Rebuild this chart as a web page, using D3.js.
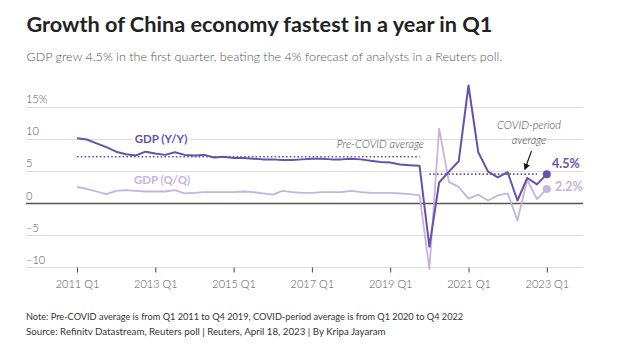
<!DOCTYPE html>
<html><head><meta charset="utf-8">
<script src="https://cdn.jsdelivr.net/npm/d3@7"></script>
<style>
body{margin:0;background:#fff;}
svg text{font-family:Lato,"Noto Sans",sans-serif;}
</style></head>
<body><svg id="c" width="624" height="355"></svg>
<script>
const years = [2011,2012,2013,2014,2015,2016,2017,2018,2019,2020,2021,2022,2023];
const quarters = [];
years.forEach(y => ["Q1","Q2","Q3","Q4"].forEach(q => { if (quarters.length < 49) quarters.push(y + " " + q); }));

const gdpYoY = [10.1,9.9,9.3,8.7, 8.0,7.6,7.4,8.0, 7.7,7.5,7.9,7.5, 7.4,7.5,7.1,7.2,
  7.0,7.0,6.9,6.8, 6.8,6.7,6.7,6.8, 6.9,6.9,6.8,6.8, 6.9,6.8,6.6,6.4, 6.3,6.0,5.9,5.8,
  -6.8,3.2,4.9,6.5, 18.3,7.9,4.9,4.0, 4.8,0.4,3.9,2.9, 4.5];
const gdpQoQ = [2.5,2.2,1.8,1.4, 1.9,2.0,1.9,1.8, 1.8,1.8,2.0,1.5, 1.6,1.7,1.7,1.7,
  1.7,1.8,1.7,1.5, 1.3,1.9,1.7,1.6, 1.6,1.7,1.7,1.7, 1.9,1.7,1.6,1.6, 1.6,1.5,1.4,1.2,
  -10.3,11.6,3.3,2.5, 0.7,1.3,0.4,1.2, 1.5,-2.7,3.6,0.6, 2.2];
const preCovidAvg = {from:"2011 Q1", to:"2019 Q4", value:7.2};
const covidAvg = {from:"2020 Q1", to:"2022 Q4", value:4.5};
const yTicks = [-10,-5,0,5,10,15];
const xTickLabels = ["2011 Q1","2013 Q1","2015 Q1","2017 Q1","2019 Q1","2021 Q1","2023 Q1"];

const title = "Growth of China economy fastest in a year in Q1";
const subtitle = "GDP grew 4.5% in the first quarter, beating the 4% forecast of analysts in a Reuters poll.";
const note = "Note: Pre-COVID average is from Q1 2011 to Q4 2019, COVID-period average is from Q1 2020 to Q4 2022";
const source = "Source: Refinitv Datastream, Reuters poll | Reuters, April 18, 2023 | By Kripa Jayaram";

const dark = "#6552ad", light = "#c6b3de";
const svg = d3.select("#c");

const x = d3.scalePoint().domain(quarters).range([77, 546.8]);
const y = d3.scaleLinear().domain([-10, 15]).range([267.3, 106.7]);

function fit(sel, target) {
  const n = sel.node();
  const fs = parseFloat(sel.attr("font-size"));
  const w = n.getComputedTextLength();
  sel.attr("font-size", (fs * target / w).toFixed(2));
}

// Title & subtitle
fit(svg.append("text").attr("x", 26.5).attr("y", 32).attr("font-size", 22).attr("font-weight", 700)
  .attr("fill", "#222").text(title), 466);
fit(svg.append("text").attr("x", 26.5).attr("y", 60.5).attr("font-size", 13).attr("font-weight", 300)
  .attr("fill", "#555").text(subtitle), 476);

// Gridlines
const grid = svg.append("g");
grid.selectAll("line").data(yTicks).join("line")
  .attr("x1", 26).attr("x2", 583)
  .attr("y1", d => Math.round(y(d)) + 0.5).attr("y2", d => Math.round(y(d)) + 0.5)
  .attr("stroke", d => d === 0 ? "#555" : "#dcdcdc")
  .attr("stroke-width", d => d === 0 ? 1.3 : 1);
grid.selectAll("text").data(yTicks).join("text")
  .attr("x", 26).attr("y", d => y(d) - 3.5)
  .attr("font-size", 11).attr("font-weight", 300).attr("fill", "#555")
  .text(d => (d < 0 ? "\u2212" + Math.abs(d) : d) + (d === 15 ? "%" : ""));

// X axis
const xAxis = d3.axisBottom(x).tickValues(xTickLabels).tickSize(5).tickPadding(8);
const gx = svg.append("g").attr("transform", `translate(0,${Math.round(y(-10)) + 0.5})`).call(xAxis);
gx.select(".domain").remove();
gx.selectAll(".tick line").attr("stroke", "#444");
gx.selectAll(".tick text").attr("font-size", 11).attr("font-weight", 300).attr("fill", "#555")
  .attr("font-family", 'Lato,"Noto Sans",sans-serif');

// Average dotted lines
function avgLine(a) {
  svg.append("line")
    .attr("x1", x(a.from)).attr("x2", x(a.to))
    .attr("y1", y(a.value)).attr("y2", y(a.value))
    .attr("stroke", dark).attr("stroke-width", 1.6).attr("stroke-dasharray", "1.6,2.2");
}
avgLine(preCovidAvg);
avgLine(covidAvg);

// Lines
const line = d3.line().x((d, i) => x(quarters[i])).y(d => y(d));
svg.append("path").datum(gdpQoQ).attr("d", line).attr("fill", "none")
  .attr("stroke", light).attr("stroke-width", 1.8).attr("stroke-linejoin", "round");
svg.append("path").datum(gdpYoY).attr("d", line).attr("fill", "none")
  .attr("stroke", dark).attr("stroke-width", 2).attr("stroke-linejoin", "round");

// End dots and labels
const last = quarters.length - 1;
svg.append("circle").attr("cx", x(quarters[last])).attr("cy", y(gdpQoQ[last])).attr("r", 4).attr("fill", light);
svg.append("circle").attr("cx", x(quarters[last])).attr("cy", y(gdpYoY[last])).attr("r", 4).attr("fill", dark);
svg.append("text").attr("x", 552).attr("y", y(gdpYoY[last]) - 6.5).attr("font-size", 12.5).attr("font-weight", 700)
  .attr("fill", dark).text(gdpYoY[last] + "%");
svg.append("text").attr("x", 555).attr("y", y(gdpQoQ[last]) + 2.5).attr("font-size", 12.5).attr("font-weight", 700)
  .attr("fill", light).text(gdpQoQ[last] + "%");

// Series labels with white halo
function seriesLabel(txt, cx, by, col) {
  svg.append("text").attr("x", cx).attr("y", by).attr("text-anchor", "middle")
    .attr("font-size", 11.5).attr("font-weight", 700).attr("fill", col)
    .attr("stroke", "#fff").attr("stroke-width", 5).attr("paint-order", "stroke").text(txt);
}
seriesLabel("GDP (Y/Y)", 161, 143, dark);
seriesLabel("GDP (Q/Q)", 162, 184, light);

// Annotations
svg.append("text").attr("x", 424).attr("y", 148).attr("text-anchor", "end")
  .attr("font-size", 11).attr("font-style", "italic").attr("font-weight", 300).attr("fill", "#444").text("Pre-COVID average");
svg.append("text").attr("x", 529).attr("y", 129).attr("text-anchor", "middle")
  .attr("font-size", 11).attr("font-style", "italic").attr("font-weight", 300).attr("fill", "#444").text("COVID-period");
svg.append("text").attr("x", 529).attr("y", 143.5).attr("text-anchor", "middle")
  .attr("font-size", 11).attr("font-style", "italic").attr("font-weight", 300).attr("fill", "#444").text("average");
svg.append("defs").append("marker").attr("id", "ah").attr("viewBox", "0 0 10 10")
  .attr("refX", 8).attr("refY", 5).attr("markerWidth", 6).attr("markerHeight", 6).attr("orient", "auto")
  .append("path").attr("d", "M0,0 L10,5 L0,10 z").attr("fill", "#111");
svg.append("line").attr("x1", 531.5).attr("y1", 151).attr("x2", 525).attr("y2", 169)
  .attr("stroke", "#111").attr("stroke-width", 1.1).attr("marker-end", "url(#ah)");

// Footer
fit(svg.append("text").attr("x", 26).attr("y", 320).attr("font-size", 10).attr("fill", "#333").text(note), 438);
fit(svg.append("text").attr("x", 26).attr("y", 335).attr("font-size", 10).attr("fill", "#333").text(source), 360);
</script></body></html>
